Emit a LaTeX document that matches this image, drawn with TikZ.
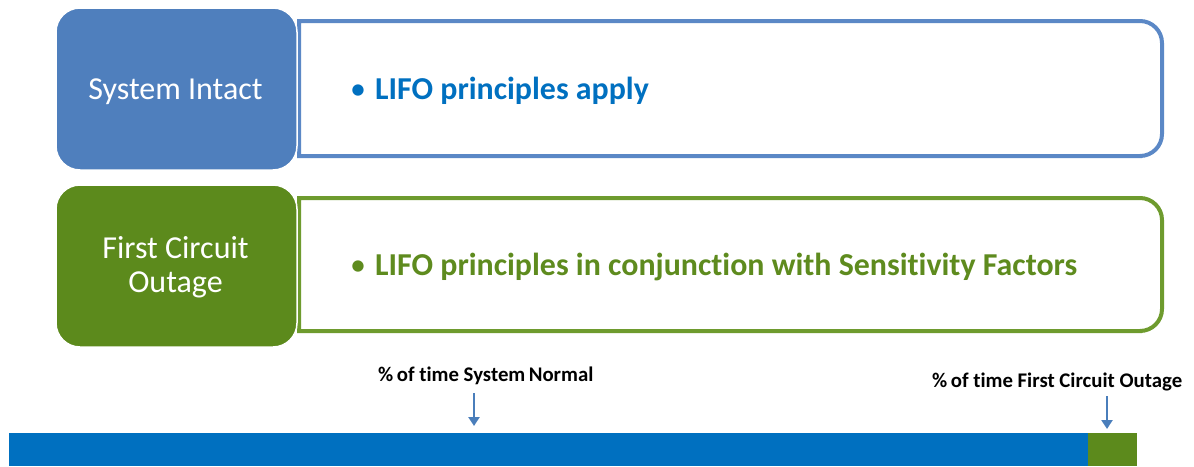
\documentclass[tikz,border=0pt]{standalone}
\usepackage{fontspec}
\setmainfont{Carlito}[Ligatures=NoCommon]
\usetikzlibrary{arrows.meta}
\definecolor{boxblue}{HTML}{4F7FBD}
\definecolor{lineblue}{HTML}{5B88C6}
\definecolor{textblue}{HTML}{0070C0}
\definecolor{boxgreen}{HTML}{5C8A1C}
\definecolor{linegreen}{HTML}{6E9B2E}
\definecolor{textgreen}{HTML}{5E8B1E}
\definecolor{barblue}{HTML}{0070C0}
\definecolor{bargreen}{HTML}{5C8A1C}
\definecolor{arrowblue}{HTML}{4A7EBB}
\tikzset{
  labelbox/.style={draw=white, line width=1.5pt, rounded corners=24pt},
  outerbox/.style={line width=4pt, fill=white},
  bigtext/.style={font=\fontsize{32}{35}\selectfont, inner sep=0pt},
  boldbig/.style={font=\bfseries\fontsize{31.9}{35}\selectfont, inner sep=0pt, anchor=base west},
  smalltext/.style={font=\bfseries\fontsize{20.8}{23}\selectfont, inner sep=0pt, anchor=base west},
  pointer/.style={draw=arrowblue, line width=2.8pt, -{Triangle[width=11pt,length=9pt]}}
}
\begin{document}
\begin{tikzpicture}[x=1pt,y=-1pt]
\useasboundingbox (0,0) rectangle (1194,466);
% row 1
\draw[outerbox, draw=lineblue] (299,21) -- (1120,21) [rounded corners=22pt] -- (1162,21) -- (1162,156) -- (1120,156) [sharp corners] -- (299,156) -- cycle;
\draw[labelbox, fill=boxblue] (56,8) rectangle (297,170);
\node[bigtext, text=white, anchor=base] (si) at (175.5,99) {System Intact};
\node[bigtext, text=textblue, anchor=base] (b1) at (358,99) {•};
\node[boldbig, text=textblue] (t1) at (375,99) {LIFO principles apply};
% row 2
\draw[outerbox, draw=linegreen] (299,198) -- (1120,198) [rounded corners=22pt] -- (1162,198) -- (1162,331) -- (1120,331) [sharp corners] -- (299,331) -- cycle;
\draw[labelbox, fill=boxgreen] (56,185) rectangle (297,347);
\node[bigtext, text=white, anchor=base] (fc) at (175.5,258) {First Circuit};
\node[bigtext, text=white, anchor=base] (og) at (175.5,292) {Outage};
\node[bigtext, text=textgreen, anchor=base] (b2) at (358,275) {•};
\node[boldbig, text=textgreen] (t2) at (375,275) {LIFO principles in conjunction with Sensitivity Factors};
% bottom bar
\fill[barblue] (9,433) rectangle (1088,466);
\fill[bargreen] (1088,433) rectangle (1137,466);
\coordinate (a1s) at (474,393);
\coordinate (a1e) at (474,426);
\coordinate (a2s) at (1107,396);
\coordinate (a2e) at (1107,429);
\node[smalltext] (l1) at (378,381) {\%\,of time System\,Normal};
\node[smalltext] (l2) at (932,387) {\%\,of time First Circuit Outage};
\draw[pointer] (a1s) -- (a1e);
\draw[pointer] (a2s) -- (a2e);
\end{tikzpicture}
\end{document}
